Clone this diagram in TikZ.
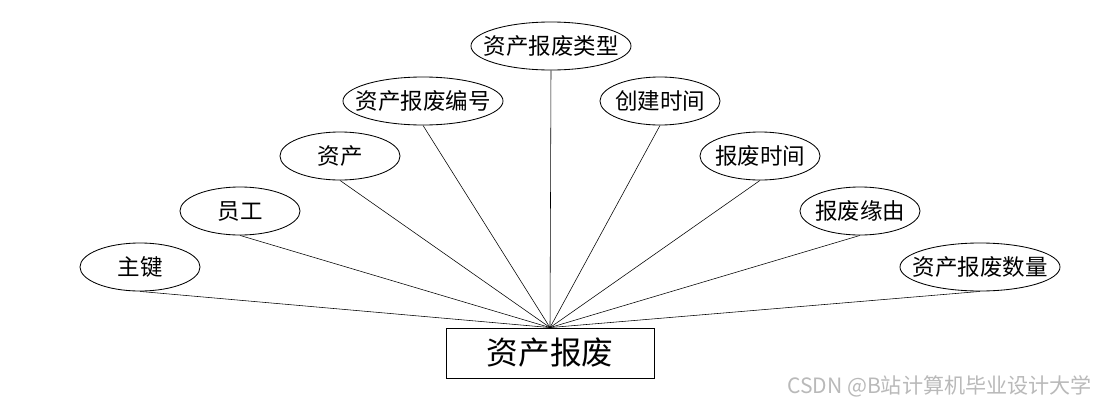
\documentclass[tikz,border=0pt]{standalone}
\usepackage{fontspec}
\setmainfont{Noto Sans CJK SC}
\usetikzlibrary{shapes.geometric,backgrounds}

\begin{document}
\begin{tikzpicture}[x=0.025cm, y=-0.025cm, line width=0.6pt,
  attr/.style={draw,ellipse,fill=white,inner xsep=-8pt,inner ysep=0pt,minimum width=3cm,minimum height=1.2cm,font=\fontsize{16}{16}\selectfont},
  wide/.style={attr,minimum width=4cm}]
\useasboundingbox (0,0) rectangle (1100,408);
\node[draw,minimum width=5.2cm,minimum height=1.25cm,font=\fontsize{22.5}{22.5}\selectfont] (scrap) at (550,353) {资产报废};
\node[attr] (key) at (140,267) {主键};
\node[attr] (staff) at (240,211) {员工};
\node[attr] (asset) at (340,156) {资产};
\node[wide] (code) at (423,101) {资产报废编号};
\node[wide] (type) at (551,46) {资产报废类型};
\node[attr] (created) at (660,101) {创建时间};
\node[attr] (time) at (760,156) {报废时间};
\node[attr] (reason) at (860,211) {报废缘由};
\node[wide] (qty) at (980,267) {资产报废数量};
\begin{scope}[on background layer]
\foreach \n in {key,staff,asset,code,type,created,time,reason,qty}
  \draw (\n.south) -- (scrap.north);
\end{scope}
\node[anchor=east,text=gray!55,font=\fontsize{15}{15}\selectfont] (mark) at (1097,386) {CSDN @B站计算机毕业设计大学};
\end{tikzpicture}
\end{document}
